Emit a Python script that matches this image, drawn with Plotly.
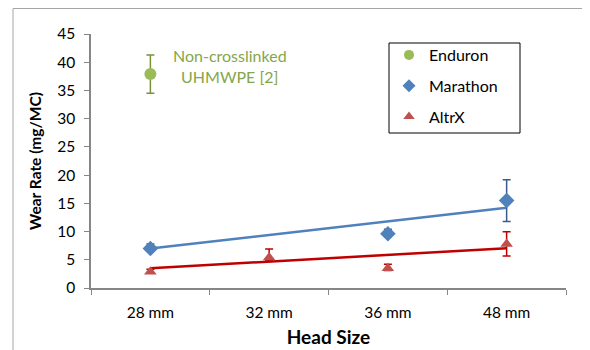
import plotly.graph_objects as go

# ---- data ----
categories = ["28 mm", "32 mm", "36 mm", "48 mm"]
enduron = [37.9, None, None, None]
enduron_err = [3.4, 0, 0, 0]
marathon = [7.0, None, 9.6, 15.5]
marathon_err_plus = [0.8, 0, 0.8, 3.7]
marathon_err_minus = [0.5, 0, 0.5, 3.7]
altrx = [2.9, 5.4, 3.5, 7.8]
altrx_err_plus = [0.4, 1.5, 0.7, 2.15]
altrx_err_minus = [0.3, 0.5, 0.4, 2.15]
trend_x = ["28 mm", "48 mm"]
marathon_trend = [7.0, 14.2]
altrx_trend = [3.5, 7.05]
legend_names = ["Enduron", "Marathon", "AltrX"]

FONT = "Lato, 'Open Sans', sans-serif"

# page offset of the figure (default body margin)
OFF = 8
W, H = 590 - OFF, 350 - OFF
# plot area in page pixels
L, R, T, B = 91, 566, 34, 288
pw, ph = R - L, B - T

def px(x):
    return (x - L) / pw

def py(y):
    return (B - y) / ph

fig = go.Figure()

fig.add_trace(go.Scatter(
    x=trend_x, y=marathon_trend, mode="lines",
    line=dict(color="#4F81BD", width=2.5), showlegend=False, hoverinfo="skip"))
fig.add_trace(go.Scatter(
    x=trend_x, y=altrx_trend, mode="lines",
    line=dict(color="#C00000", width=2.5), showlegend=False, hoverinfo="skip"))

fig.add_trace(go.Scatter(
    x=categories, y=enduron, name=legend_names[0], mode="markers",
    marker=dict(symbol="circle", size=12, color="#9BBB59"),
    error_y=dict(type="data", array=enduron_err, color="#77933C", thickness=1.5, width=4),
    showlegend=False))
fig.add_trace(go.Scatter(
    x=categories, y=marathon, name=legend_names[1], mode="markers",
    marker=dict(symbol="diamond", size=12, color="#4F81BD"),
    error_y=dict(type="data", array=marathon_err_plus, arrayminus=marathon_err_minus,
                 color="#385D8A", thickness=1.5, width=4),
    showlegend=False))
fig.add_trace(go.Scatter(
    x=categories, y=altrx, name=legend_names[2], mode="markers",
    marker=dict(symbol="triangle-up", size=11, color="#C0504D"),
    error_y=dict(type="data", array=altrx_err_plus, arrayminus=altrx_err_minus,
                 color="#C00000", thickness=1.5, width=4),
    showlegend=False))

# legend-only entries with smaller symbols
for name, sym, col, grp in zip(legend_names,
                               ["circle", "diamond", "triangle-up"],
                               ["#9BBB59", "#4F81BD", "#C0504D"],
                               ["a", "b", "c"]):
    fig.add_trace(go.Scatter(x=[None], y=[None], name=name, mode="markers",
                             marker=dict(symbol=sym, size=10, color=col),
                             legendgroup=grp, showlegend=True))

fig.update_layout(
    width=W, height=H,
    margin=dict(l=L - OFF, r=W - (R - OFF), t=T - OFF, b=H - (B - OFF), autoexpand=False),
    paper_bgcolor="white", plot_bgcolor="white",
    font=dict(family=FONT, size=15, color="#000000"),
    showlegend=True,
    legend=dict(
        x=px(389), y=py(38), xanchor="left", yanchor="top",
        font=dict(family=FONT, size=16, color="#000000"),
        tracegroupgap=7, bgcolor="rgba(0,0,0,0)", borderwidth=0,
        itemsizing="trace"),
    xaxis=dict(
        type="category", categoryorder="array", categoryarray=categories,
        range=[-0.5, 3.5], tickson="boundaries", automargin=False,
        showline=True, linecolor="#868686", linewidth=1.5,
        ticks="outside", ticklen=5, tickcolor="#868686", tickwidth=1,
        ticklabelstandoff=10,
        showgrid=False, zeroline=False,
        tickfont=dict(family=FONT, size=15.5, color="#000000"),
        title=dict(text="<b>Head Size</b>", font=dict(family=FONT, size=19), standoff=10)),
    yaxis=dict(
        range=[0, 45], dtick=5, tick0=0, automargin=False,
        showline=True, linecolor="#868686", linewidth=1.5,
        ticks="outside", ticklen=5, tickcolor="#868686", tickwidth=1,
        ticklabelstandoff=6,
        showgrid=False, zeroline=False,
        tickfont=dict(family=FONT, size=15.5, color="#000000"),
        title=dict(text="<b>Wear Rate (mg/MC)</b>", font=dict(family=FONT, size=15.5), standoff=12)),
    shapes=[
        dict(type="rect", xref="paper", yref="paper",
             x0=px(389), x1=px(520), y0=py(133), y1=py(43),
             line=dict(color="#000000", width=1)),
        dict(type="rect", xref="paper", yref="paper",
             x0=px(13), x1=px(620), y0=py(380), y1=py(OFF + 0.5),
             line=dict(color="#A6A6A6", width=1), layer="below"),
    ],
    annotations=[
        dict(text="Non-crosslinked<br>UHMWPE [2]", xref="paper", yref="paper",
             x=px(230), y=py(66), showarrow=False, align="center",
             xanchor="center", yanchor="middle",
             font=dict(family=FONT, size=16, color="#86A64B")),
    ],
)

fig.write_html("out.html")
